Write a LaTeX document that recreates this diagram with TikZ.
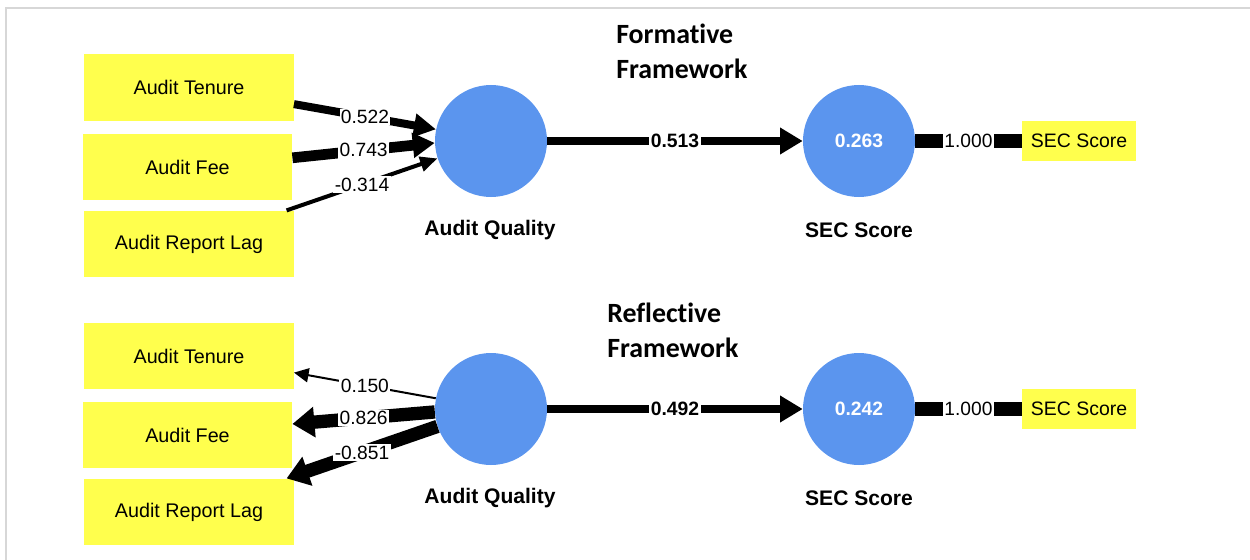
\documentclass[tikz,border=0pt]{standalone}
\usepackage{fontspec}
\setmainfont{Liberation Sans}
\newfontfamily\headfont[RawFeature={-liga;-clig;-calt;-dlig}]{Carlito}
\usetikzlibrary{arrows.meta}
\definecolor{indyellow}{RGB}{255,255,77}
\definecolor{lvblue}{RGB}{91,149,238}
\definecolor{framegray}{RGB}{215,215,215}

\begin{document}
\begin{tikzpicture}[x=0.75pt,y=-0.75pt,
  indicator/.style={fill=indyellow, minimum width=157pt, minimum height=50pt,
    inner sep=0pt, font=\fontsize{14.8}{16}\selectfont},
  outcome/.style={fill=indyellow, minimum width=85.5pt, minimum height=30pt,
    inner sep=0pt, font=\fontsize{14.6}{16}\selectfont},
  latent/.style={circle, fill=lvblue, minimum size=84pt, inner sep=0pt,
    text=white, font=\bfseries\fontsize{14.5}{16}\selectfont},
  lvname/.style={font=\bfseries\fontsize{15.8}{18}\selectfont},
  coef/.style={fill=white, inner sep=1pt, font=\fontsize{14.4}{16}\selectfont},
  coefbold/.style={fill=white, inner sep=1pt, font=\bfseries\fontsize{14.5}{16}\selectfont},
  heading/.style={font=\headfont\bfseries\fontsize{20.9}{26.25}\selectfont,
    align=left, anchor=base west, inner sep=0pt},
]
\useasboundingbox (0,0) rectangle (1250,560);
\draw[framegray, line width=1.1pt] (6,560) -- (6,8) -- (1250,8);

% ---------- formative model ----------
% the base anchor of a two-line node sits on its last line
\node[heading] (hf) at (616,79) {Formative\\Framework};

\node[indicator] (t1) at (189,87.5) {Audit Tenure};
\node[indicator] (f1) at (187.5,167) {Audit Fee};
\node[indicator] (l1) at (189,244) {Audit Report Lag};

\node[latent] (aq1) at (491,141) {};
\node[latent] (sec1) at (859,141) {0.263};
\node[lvname] (aqn1) at (490,230) {Audit Quality};
\node[lvname] (secn1) at (859,230) {SEC Score};
\node[outcome] (so1) at (1079,141) {SEC Score};

\draw[line width=6pt, -{Triangle[length=16.5pt, width=17pt]}]
  (t1.-9.6) -- node[coef] {0.522} (aq1.168.7);
\draw[line width=8pt, -{Triangle[length=16.5pt, width=18pt]}]
  (f1.5.4) -- node[coef] {0.743} (aq1.182);
\draw[line width=3pt, -{Triangle[length=13pt, width=11pt]}]
  (l1.19) -- node[coef] {-0.314} (aq1.198);

\draw[line width=6.5pt, -{Triangle[length=17pt, width=19pt]}]
  (aq1) -- node[coefbold] {0.513} (sec1);
\draw[line width=10pt]
  (sec1) -- node[coef] {1.000} (so1);

% ---------- reflective model ----------
\node[heading] (hr) at (607,357) {Reflective\\Framework};

\node[indicator] (t2) at (189,356) {Audit Tenure};
\node[indicator] (f2) at (187.5,435) {Audit Fee};
\node[indicator] (l2) at (189,512) {Audit Report Lag};

\node[latent] (aq2) at (491,409) {};
\node[latent] (sec2) at (859,409) {0.242};
\node[lvname] (aqn2) at (490,498) {Audit Quality};
\node[lvname] (secn2) at (859,498) {SEC Score};
\node[outcome] (so2) at (1079,409) {SEC Score};

\draw[line width=1.5pt, -{Triangle[length=11pt, width=10.5pt]}]
  (aq2.169) -- node[coef] {0.150} (t2.-9.3);
\draw[line width=10pt, -{Triangle[length=16.5pt, width=22pt]}]
  (aq2.183) -- node[coef] {0.826} (f2.6.5);
\draw[line width=10pt, -{Triangle[length=16.5pt, width=22pt]}]
  (aq2.198.4) -- node[coef] {-0.851} (l2.19);

\draw[line width=6.5pt, -{Triangle[length=17pt, width=19pt]}]
  (aq2) -- node[coefbold] {0.492} (sec2);
\draw[line width=10pt]
  (sec2) -- node[coef] {1.000} (so2);
\end{tikzpicture}
\end{document}
